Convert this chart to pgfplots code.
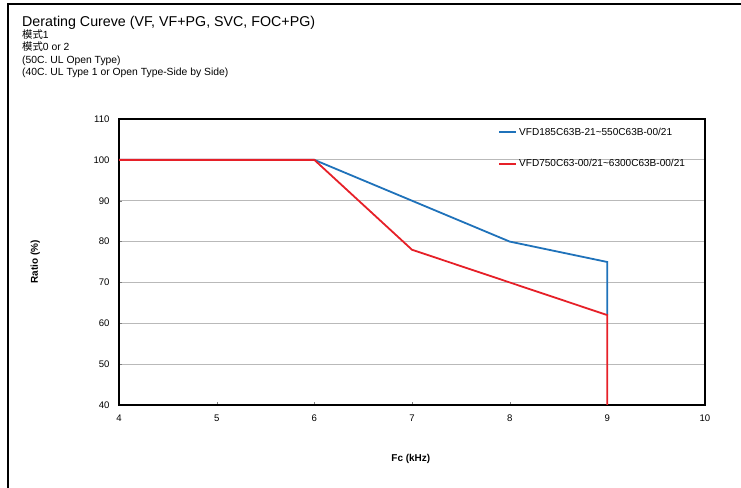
\documentclass[border=0pt]{standalone}
\usepackage{fontspec}
\setmainfont{Liberation Sans}
\newfontfamily\cjk{Noto Sans CJK TC}
\usepackage{pgfplots}
\pgfplotsset{compat=1.18}
\definecolor{vblue}{RGB}{31,114,186}
\definecolor{vred}{RGB}{230,32,40}
\definecolor{gridc}{RGB}{185,185,185}
\begin{document}
\begin{tikzpicture}
\useasboundingbox (0bp,0bp) rectangle (741bp,488bp);
\draw[line width=1.3bp] (8bp,0bp) -- (8bp,484bp) -- (741bp,484bp);
\node[anchor=base west, inner sep=0pt, font=\fontsize{14.3}{15}\selectfont] at (22bp,461bp) {Derating Cureve (VF, VF+PG, SVC, FOC+PG)};
\node[anchor=base west, inner sep=0pt, font=\fontsize{10.4}{11}\selectfont] at (22bp,449bp) {{\cjk 模式}1};
\node[anchor=base west, inner sep=0pt, font=\fontsize{10.4}{11}\selectfont] at (22bp,437bp) {{\cjk 模式}0 or 2};
\node[anchor=base west, inner sep=0pt, font=\fontsize{10.4}{11}\selectfont] at (22bp,424bp) {(50C. UL Open Type)};
\node[anchor=base west, inner sep=0pt, font=\fontsize{10.4}{11}\selectfont] at (22bp,412bp) {(40C. UL Type 1 or Open Type-Side by Side)};
\begin{axis}[
  at={(119bp,83bp)}, anchor=south west,
  scale only axis, width=586bp, height=286bp,
  xmin=4, xmax=10, ymin=40, ymax=110,
  xtick={4,5,6,7,8,9,10}, ytick={40,50,60,70,80,90,100,110},
  xtick pos=bottom, ytick pos=left,
  tick align=inside, major tick length=3bp,
  /pgf/number format/assume math mode=true,
  tick label style={font=\fontsize{9.6}{11}\selectfont},
  xticklabel style={yshift=-6bp},
  yticklabel style={xshift=-6bp},
  ymajorgrids, grid style={gridc, line width=0.8bp},
  axis line style={line width=1.2bp, black},
  xlabel={Fc (kHz)}, ylabel={Ratio (\%)},
  xlabel style={font=\bfseries\fontsize{10}{11}\selectfont, at={(axis description cs:0.498,-0.189)}, anchor=center},
  ylabel style={font=\bfseries\fontsize{10}{11}\selectfont, at={(axis description cs:-0.143,0.5)}, anchor=center},
  legend style={draw=none, fill=none, at={(axis description cs:0.647,0.977)}, anchor=north west,
    font=\fontsize{10.1}{11}\selectfont, row sep=19bp, inner sep=0pt},
  legend cell align=left,
]
\addplot[vblue, line width=1.8bp] coordinates {(4,100) (6,100) (7,90) (8,80) (9,75) (9,62)};
\addlegendentry{VFD185C63B-21\textasciitilde550C63B-00/21}
\addplot[vred, line width=1.8bp] coordinates {(4,100) (6,100) (7,78) (8,70) (9,62) (9,40)};
\addlegendentry{VFD750C63-00/21\textasciitilde6300C63B-00/21}
\end{axis}
\end{tikzpicture}
\end{document}
